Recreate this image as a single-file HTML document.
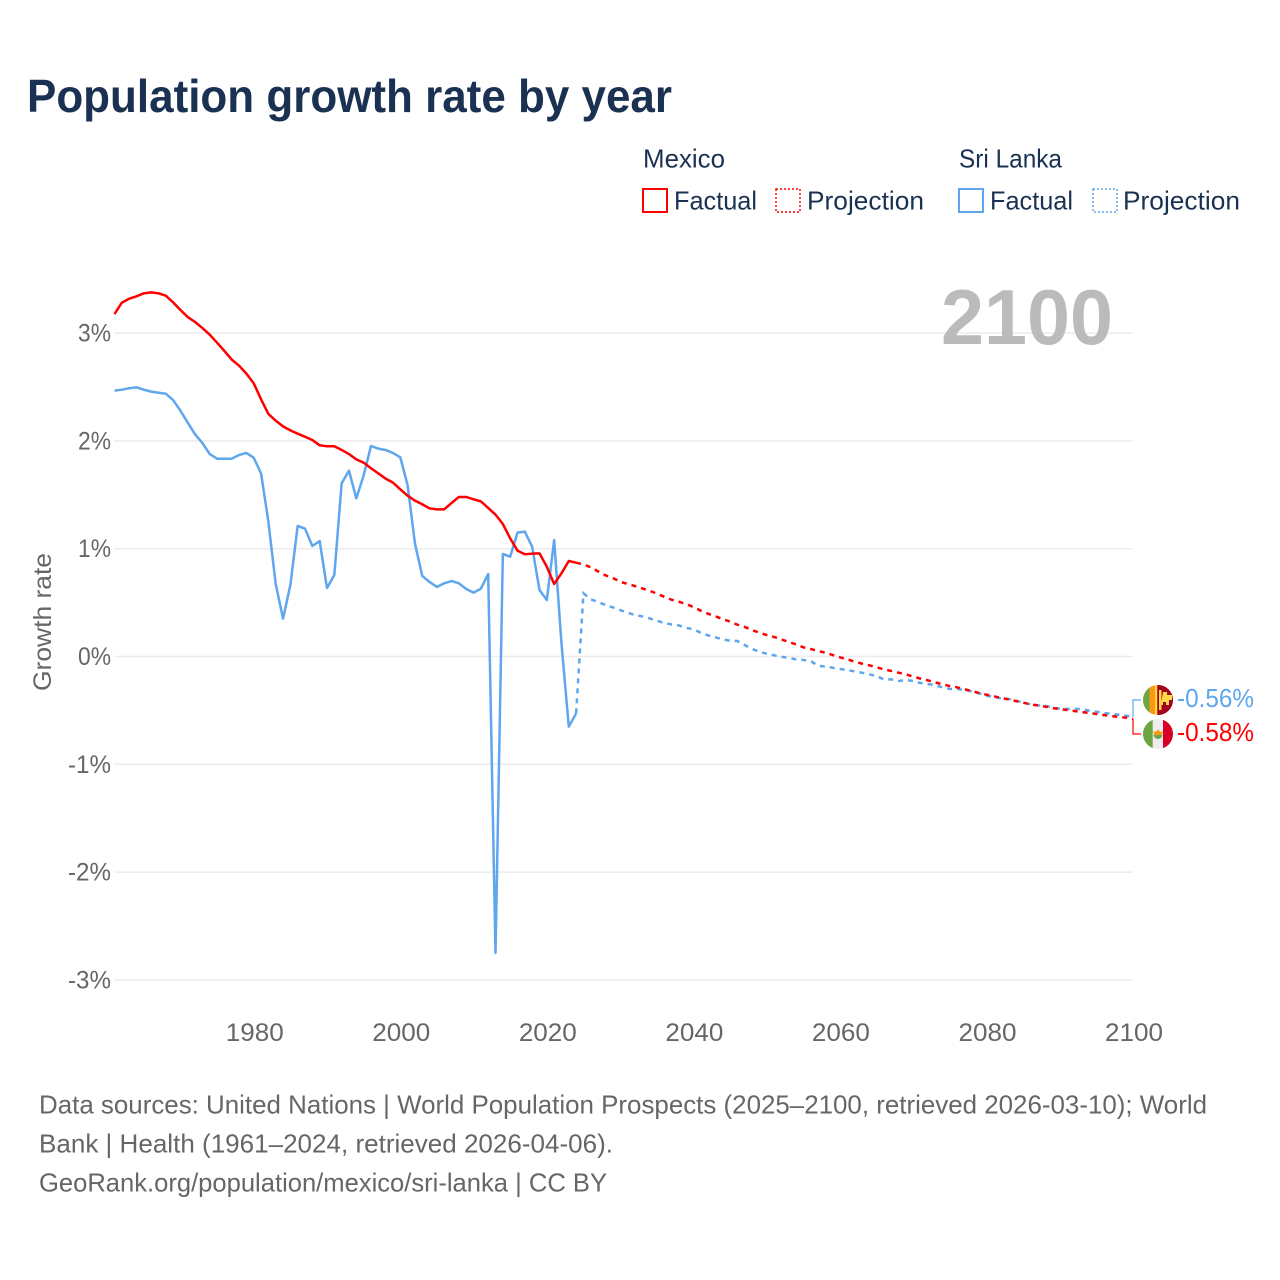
<!DOCTYPE html>
<html lang="en">
<head>
<meta charset="utf-8">
<title>Population growth rate by year</title>
<style>
html,body{margin:0;padding:0;background:#fff;width:1280px;height:1280px;overflow:hidden}
svg{display:block}
text{font-family:"Liberation Sans",sans-serif}
.legend{font-size:26px;fill:#1a3152}
.tick{font-size:25px;fill:#666}
.foot{font-size:26px;fill:#666}
</style>
</head>
<body>
<svg id="chart" xmlns="http://www.w3.org/2000/svg" width="1280" height="1280" viewBox="0 0 1280 1280">
  <rect width="1280" height="1280" fill="#fff"/>
  <text x="27" y="112" font-size="46" font-weight="700" fill="#1a3152" textLength="645" lengthAdjust="spacingAndGlyphs">Population growth rate by year</text>

  <g>
    <text class="legend" x="643" y="167.500" textLength="82" lengthAdjust="spacingAndGlyphs">Mexico</text>
    <text class="legend" x="959" y="167.500" textLength="103" lengthAdjust="spacingAndGlyphs">Sri Lanka</text>
    <g>
      <rect x="643" y="189" width="24" height="23" fill="none" stroke="#ff0000" stroke-width="2"/>
      <text class="legend" x="674" y="209.500" textLength="83" lengthAdjust="spacingAndGlyphs">Factual</text>
    </g>
    <g>
      <rect x="776" y="189" width="24" height="23" fill="none" stroke="#ff0000" stroke-width="1.5" stroke-dasharray="2 2"/>
      <text class="legend" x="807" y="209.500" textLength="117" lengthAdjust="spacingAndGlyphs">Projection</text>
    </g>
    <g>
      <rect x="959" y="189" width="24" height="23" fill="none" stroke="#5ea6ee" stroke-width="2"/>
      <text class="legend" x="990" y="209.500" textLength="83" lengthAdjust="spacingAndGlyphs">Factual</text>
    </g>
    <g>
      <rect x="1093" y="189" width="24" height="23" fill="none" stroke="#5ea6ee" stroke-width="1.5" stroke-dasharray="2 2"/>
      <text class="legend" x="1123" y="209.500" textLength="117" lengthAdjust="spacingAndGlyphs">Projection</text>
    </g>
  </g>

  <g id="grid"></g>
  <text x="941" y="344" font-size="78" font-weight="700" fill="#bbbbbb" textLength="172" lengthAdjust="spacingAndGlyphs">2100</text>
  <g id="yaxis"></g>
  <g id="xaxis"></g>
  <text transform="translate(51,622) rotate(-90)" text-anchor="middle" font-size="25" fill="#666" textLength="138" lengthAdjust="spacingAndGlyphs">Growth rate</text>
  <g id="series"></g>

  <defs>
    <clipPath id="clip-lk"><circle cx="1158" cy="700" r="15"/></clipPath>
    <clipPath id="clip-mx"><circle cx="1158" cy="734" r="15"/></clipPath>
  </defs>
  <g id="connectors"></g>
  <g clip-path="url(#clip-lk)">
    <rect x="1143" y="685" width="30" height="30" fill="#ffda44"/>
    <rect x="1143" y="685" width="6.500" height="30" fill="#6da544"/>
    <rect x="1149.500" y="685" width="5.500" height="30" fill="#ff9811"/>
    <rect x="1157.300" y="685" width="15.700" height="30" fill="#a2001d"/>
    <rect x="1159" y="690" width="2.500" height="20" fill="#ffda44"/>
    <path d="M1163 692 h4 v3 h5 v5 h-3 v5 h-3 v-3 h-3 v3 h-2 z" fill="#ffda44"/>
  </g>
  <g clip-path="url(#clip-mx)">
    <rect x="1143" y="719" width="30" height="30" fill="#ededed"/>
    <rect x="1143" y="719" width="9.700" height="30" fill="#6da544"/>
    <rect x="1163" y="719" width="10" height="30" fill="#d80027"/>
    <path d="M1153.500 734.500 a4.500 4.500 0 0 0 9 0 l-2 .5 h-5 z" fill="#6da544"/>
    <path d="M1153 731 l2.500 1 l2.500-2.500 l2.500 2.500 l2.500-1 l-1.500 4 h-7 z" fill="#ff9811"/>
  </g>
  <g id="endlabels"></g>

  <g>
    <text class="foot" x="39" y="1113.500" textLength="1168" lengthAdjust="spacingAndGlyphs">Data sources: United Nations | World Population Prospects (2025–2100, retrieved 2026-03-10); World</text>
    <text class="foot" x="39" y="1152.500" textLength="574" lengthAdjust="spacingAndGlyphs">Bank | Health (1961–2024, retrieved 2026-04-06).</text>
    <text class="foot" x="39" y="1191.500" textLength="568" lengthAdjust="spacingAndGlyphs">GeoRank.org/population/mexico/sri-lanka | CC BY</text>
  </g>
</svg>

<script>
const firstFactualYear = 1961;
const firstProjectionYear = 2025;
const xTickYears = [1980, 2000, 2020, 2040, 2060, 2080, 2100];
const yTickValues = [3, 2, 1, 0, -1, -2, -3];

const mexicoFactual = [
  3.177,3.282,3.319,3.341,3.369,3.378,3.369,3.347,3.285,3.214,
  3.149,3.103,3.047,2.985,2.911,2.834,2.754,2.698,2.624,2.534,
  2.386,2.250,2.188,2.135,2.098,2.067,2.039,2.008,1.959,1.950,
  1.950,1.916,1.878,1.829,1.798,1.746,1.699,1.650,1.613,1.551,
  1.492,1.446,1.412,1.374,1.365,1.365,1.424,1.480,1.480,1.458,
  1.439,1.378,1.316,1.229,1.096,0.982,0.948,0.954,0.957,0.833,
  0.673,0.772,0.886,0.870
];
const sriLankaFactual = [
  2.466,2.475,2.488,2.497,2.475,2.457,2.447,2.438,2.379,2.280,
  2.169,2.061,1.980,1.878,1.835,1.835,1.835,1.869,1.888,1.844,
  1.699,1.251,0.673,0.351,0.663,1.211,1.186,1.025,1.071,0.635,
  0.756,1.606,1.724,1.467,1.678,1.953,1.928,1.916,1.888,1.848,
  1.591,1.050,0.747,0.691,0.645,0.679,0.700,0.679,0.626,0.592,
  0.629,0.765,-2.750,0.951,0.926,1.149,1.158,1.019,0.617,0.524,
  1.081,0.122,-0.651,-0.527
];
const mexicoProjection = [
  0.855,0.827,0.790,0.753,0.728,0.694,0.673,0.654,0.632,0.611,
  0.583,0.555,0.527,0.509,0.487,0.459,0.425,0.397,0.373,0.348,
  0.323,0.295,0.274,0.246,0.221,0.199,0.181,0.159,0.134,0.113,
  0.085,0.070,0.051,0.036,0.014,-0.008,-0.026,-0.048,-0.066,-0.082,
  -0.100,-0.119,-0.134,-0.150,-0.165,-0.187,-0.205,-0.221,-0.240,-0.258,
  -0.274,-0.286,-0.304,-0.320,-0.339,-0.354,-0.369,-0.385,-0.397,-0.413,
  -0.428,-0.444,-0.453,-0.465,-0.478,-0.487,-0.496,-0.506,-0.515,-0.524,
  -0.533,-0.543,-0.552,-0.561,-0.567,-0.580
];
const sriLankaProjection = [
  0.586,0.530,0.506,0.478,0.456,0.431,0.407,0.385,0.373,0.354,
  0.332,0.311,0.298,0.289,0.267,0.252,0.221,0.196,0.178,0.159,
  0.147,0.144,0.107,0.070,0.045,0.026,0.011,-0.002,-0.014,-0.026,
  -0.032,-0.042,-0.085,-0.094,-0.104,-0.116,-0.125,-0.138,-0.150,-0.165,
  -0.181,-0.212,-0.212,-0.227,-0.218,-0.227,-0.246,-0.255,-0.267,-0.286,
  -0.301,-0.301,-0.311,-0.323,-0.342,-0.363,-0.376,-0.388,-0.394,-0.410,
  -0.428,-0.444,-0.453,-0.456,-0.472,-0.484,-0.487,-0.484,-0.490,-0.502,
  -0.512,-0.524,-0.530,-0.540,-0.549,-0.560
];

const SVG_NS = 'http://www.w3.org/2000/svg';
const RED = '#ff0000';
const BLUE = '#5ea6ee';
function xScale(year) { return 114.5 + (year - 1961) * (1133 - 114.5) / 139; }
function yScale(v) { return 656.5 - v * 107.8; }
function make(tag, parentId) {
  const el = document.createElementNS(SVG_NS, tag);
  document.getElementById(parentId).appendChild(el);
  return el;
}
function linePath(startYear, values) {
  return values.map(function (v, i) {
    return (i ? 'L' : 'M') + xScale(startYear + i).toFixed(2) + ' ' + yScale(v).toFixed(2);
  }).join(' ');
}
function percent(v) { return v + '%'; }

yTickValues.forEach(function (v) {
  const g = make('line', 'grid');
  
  
  g.setAttribute('x1', 114.5);
  g.setAttribute('x2', 1133);
  g.setAttribute('y1', yScale(v));
  g.setAttribute('y2', yScale(v));
  g.setAttribute('stroke', '#ececec');
  g.setAttribute('stroke-width', 1.5);

  const t = make('text', 'yaxis');
  
  
  t.setAttribute('class', 'tick');
  t.setAttribute('x', 111);
  t.setAttribute('y', yScale(v) + 8.5);
  t.setAttribute('text-anchor', 'end');
  t.setAttribute('textLength', v < 0 ? 43 : 33);
  t.setAttribute('lengthAdjust', 'spacingAndGlyphs');
  t.textContent = percent(v);
});

xTickYears.forEach(function (year) {
  const t = make('text', 'xaxis');
  
  
  t.setAttribute('class', 'tick');
  t.setAttribute('x', xScale(year) + 1);
  t.setAttribute('y', 1041);
  t.setAttribute('text-anchor', 'middle');
  t.setAttribute('textLength', 58);
  t.setAttribute('lengthAdjust', 'spacingAndGlyphs');
  t.textContent = year;
});

function drawFactual(values, color, name) {
  const p = make('path', 'series');
  
  
  p.setAttribute('d', linePath(firstFactualYear, values));
  p.setAttribute('fill', 'none');
  p.setAttribute('stroke', color);
  p.setAttribute('stroke-width', 2.5);
  p.setAttribute('stroke-linejoin', 'round');
}
function drawProjection(factual, projection, color, name) {
  const joined = [factual[factual.length - 1]].concat(projection);
  const p = make('path', 'series');
  
  
  p.setAttribute('d', linePath(firstProjectionYear - 1, joined));
  p.setAttribute('fill', 'none');
  p.setAttribute('stroke', color);
  p.setAttribute('stroke-width', 2.5);
  p.setAttribute('stroke-dasharray', '5 5');
}
drawFactual(sriLankaFactual, BLUE, 'line-sri-lanka-factual');
drawProjection(sriLankaFactual, sriLankaProjection, BLUE, 'line-sri-lanka-projection');
drawFactual(mexicoFactual, RED, 'line-mexico-factual');
drawProjection(mexicoFactual, mexicoProjection, RED, 'line-mexico-projection');

function drawEnd(projection, color, labelY, flagY, country) {
  const last = projection[projection.length - 1];
  const c = make('path', 'connectors');
  
  
  c.setAttribute('d', 'M1133 ' + yScale(last).toFixed(1) + ' V' + flagY + ' H1141');
  c.setAttribute('fill', 'none');
  c.setAttribute('stroke', color);
  c.setAttribute('stroke-width', 1.2);

  const t = make('text', 'endlabels');
  
  
  t.setAttribute('x', 1177);
  t.setAttribute('y', labelY);
  t.setAttribute('font-size', 26);
  t.setAttribute('fill', color);
  t.setAttribute('textLength', 77);
  t.setAttribute('lengthAdjust', 'spacingAndGlyphs');
  t.textContent = last.toFixed(2) + '%';
}
drawEnd(sriLankaProjection, BLUE, 707, 700, 'sri-lanka');
drawEnd(mexicoProjection, RED, 741, 734, 'mexico');
</script>
</body>
</html>
